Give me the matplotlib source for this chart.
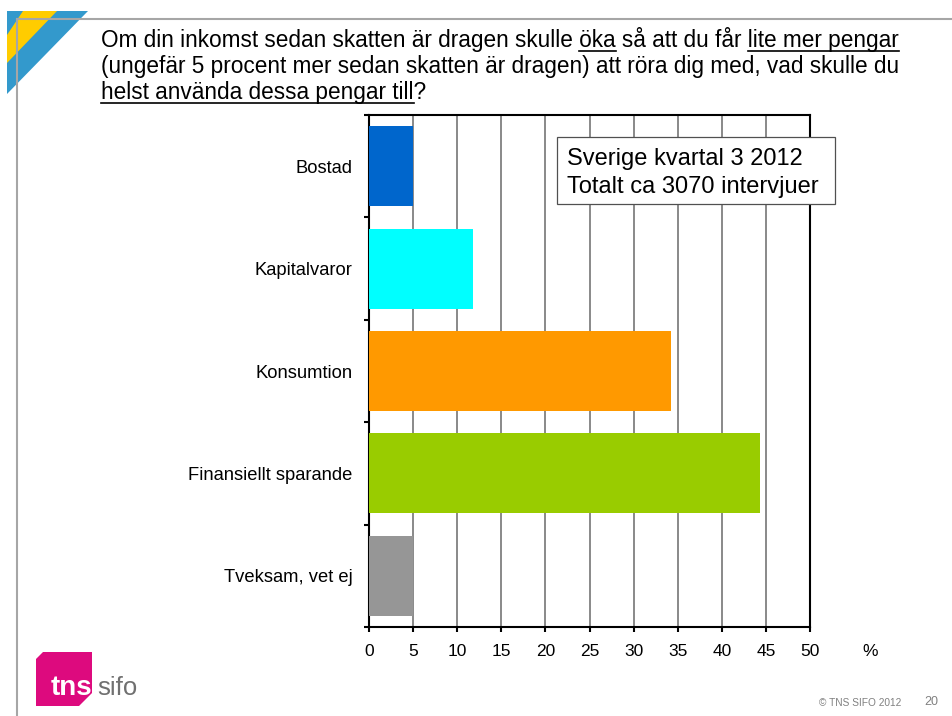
import numpy as np
import matplotlib
matplotlib.use('Agg')
import matplotlib.pyplot as plt
from matplotlib.patches import Polygon, Rectangle

plt.rcParams['font.family'] = ['Liberation Sans', 'DejaVu Sans']

# data
categories = ['Bostad', 'Kapitalvaror', 'Konsumtion', 'Finansiellt sparande', 'Tveksam, vet ej']
values = [5.0, 11.8, 34.2, 44.3, 5.0]
bar_colors = ['#0066CC', '#00FFFF', '#FF9900', '#99CC00', '#969696']
x_ticks = [0, 5, 10, 15, 20, 25, 30, 35, 40, 45, 50]

title_lines = [
    'Om din inkomst sedan skatten är dragen skulle öka så att du får lite mer pengar',
    '(ungefär 5 procent mer sedan skatten är dragen) att röra dig med, vad skulle du',
    'helst använda dessa pengar till?',
]
underlined = [['öka', 'lite mer pengar'], [], ['helst använda dessa pengar till']]
info_lines = ['Sverige kvartal 3 2012', 'Totalt ca 3070 intervjuer']

W, H = 952, 716
fig = plt.figure(figsize=(W / 100, H / 100), dpi=100)

# main chart, placed in pixel terms of the slide
ax = fig.add_axes([369 / W, (H - 627) / H, 441 / W, 512 / H])
y = np.arange(len(categories))
ax.barh(y, values, height=0.78, color=bar_colors, zorder=3)
ax.set_xlim(0, 50)
ax.set_ylim(len(categories) - 0.5, -0.5)
ax.set_xticks(x_ticks)
ax.grid(axis='x', color='#808080', lw=1.3, zorder=0)
ax.set_axisbelow(True)
ax.set_yticks(y)
ax.set_yticklabels(categories, fontsize=13.2)
ax.tick_params(axis='y', which='major', length=0, pad=12)
ax.set_yticks(np.arange(-0.5, len(categories)), minor=True)
ax.tick_params(axis='y', which='minor', length=3.6, width=1.5, direction='out')
ax.tick_params(axis='x', length=3.6, width=1.5, labelsize=12.5, pad=9)
for s in ax.spines.values():
    s.set_linewidth(1.5)
    s.set_color('black')

# overlay in pixel coordinates for the slide decoration
ov = fig.add_axes([0, 0, 1, 1], zorder=5)
ov.set_xlim(0, W)
ov.set_ylim(H, 0)
ov.axis('off')
ov.patch.set_alpha(0)

# slide frame and corner mark
ov.plot([17, 17], [19, H], color='#A6A6A6', lw=1.5)
ov.plot([17, W], [19, 19], color='#A6A6A6', lw=1.5)
ov.add_patch(Polygon([(7, 11), (88, 11), (7, 94)], closed=True, color='#3399CC', lw=0))
ov.add_patch(Polygon([(23, 11), (57, 11), (7, 63), (7, 35)], closed=True, color='#FFCC00', lw=0))

renderer = fig.canvas.get_renderer()


def text_width(s, fs):
    t = ov.text(0, 0, s, fontsize=fs)
    w = t.get_window_extent(renderer=renderer).width
    t.remove()
    return w


# title, sized so the first line spans the same width as in the slide
title_fs = 14.0 * 803 / text_width(title_lines[0], 14.0)
x0 = 101
baselines = [47, 73, 99]
for line, subs, base in zip(title_lines, underlined, baselines):
    ov.text(x0, base, line, fontsize=title_fs, va='baseline', ha='left')
    for sub in subs:
        i = line.index(sub)
        end = text_width(line[:i + len(sub)], title_fs)
        start = end - text_width(sub, title_fs)
        ov.plot([x0 + start, x0 + end], [base + 3.5] * 2, color='black', lw=1.2)

# info box
ov.add_patch(Rectangle((557, 137), 278, 67, facecolor='white', edgecolor='#505050', lw=0.9))
ov.text(567, 165, info_lines[0], fontsize=17, va='baseline')
ov.text(567, 193, info_lines[1], fontsize=17, va='baseline')

ov.text(870, 651, '%', fontsize=12.5, ha='center', va='center')
ov.text(860, 703, '© TNS SIFO 2012', fontsize=7.3, color='#808080', ha='center', va='center')
ov.text(931, 702, '20', fontsize=9, color='#808080', ha='center', va='center')

# logo
ov.add_patch(Polygon([(43, 652), (92, 652), (92, 693), (79, 706), (36, 706), (36, 659)],
                     closed=True, color='#DD0A7E', lw=0))
ov.text(51, 695, 'tns', fontsize=20, color='white', va='baseline', weight='bold')
ov.text(97, 695, 'sifo', fontsize=18.5, color='#707070', va='baseline')

fig.savefig('out.png', dpi=100)
